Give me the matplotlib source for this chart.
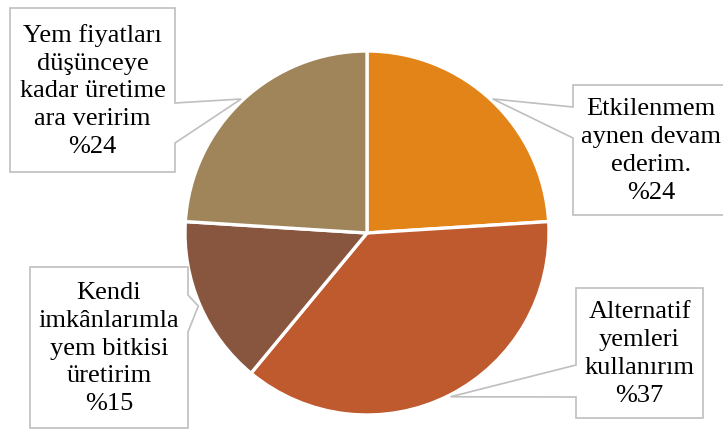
import numpy as np
import matplotlib
matplotlib.use("Agg")
import matplotlib.pyplot as plt
from matplotlib.patches import Polygon

labels = ["Etkilenmem\naynen devam\nederim.", "Alternatif\nyemleri\nkullanırım",
          "Kendi\nimkânlarımla\nyem bitkisi\nüretirim", "Yem fiyatları\ndüşünceye\nkadar üretime\nara veririm"]
values = [24, 37, 15, 24]
pct_labels = ["%24", "%37", "%15", "%24"]
colors = ["#E38418", "#BE5A2E", "#88563F", "#A0855A"]

W, H = 723, 430
fig = plt.figure(figsize=(W / 100, H / 100), dpi=100)
ax = fig.add_axes([0, 0, 1, 1])

cx, cy, R = 367, H - 233, 182
ax.pie(values, colors=colors, startangle=90, counterclock=False, center=(cx, cy),
       radius=R, frame=True, wedgeprops=dict(edgecolor="white", linewidth=2.4))
ax.set_xlim(0, W)
ax.set_ylim(0, H)
ax.set_aspect("equal")
ax.axis("off")

# callout boxes (pixel layout, top-left origin): x0, x1, y0, y1, side, pointer base a, b
boxes = [
    (573, 729, 85, 215, "left", 107, 138),
    (576, 703, 288, 418, "left", 365, 397),
    (30, 188, 267, 428, "right", 295, 332),
    (10, 175, 8, 172, "right", 103, 143),
]

total = sum(values)
cum = 0
for i, v in enumerate(values):
    ang = np.deg2rad(90 - 360 * (cum + v / 2) / total)
    cum += v
    tx, ty = cx + R * 1.01 * np.cos(ang), cy + R * 1.01 * np.sin(ang)
    x0, x1, y0, y1, side, pa, pb = boxes[i]
    Y = lambda y: H - y
    if side == "right":
        verts = [(x0, Y(y0)), (x1, Y(y0)), (x1, Y(pa)), (tx, ty), (x1, Y(pb)), (x1, Y(y1)), (x0, Y(y1))]
    else:
        verts = [(x0, Y(y0)), (x1, Y(y0)), (x1, Y(y1)), (x0, Y(y1)), (x0, Y(pb)), (tx, ty), (x0, Y(pa))]
    ax.add_patch(Polygon(verts, closed=True, facecolor="white", edgecolor="#BFBFBF",
                         linewidth=1.2, zorder=5, clip_on=False))
    ax.text((x0 + x1) / 2, H - (y0 + y1) / 2 - 1, labels[i] + "\n" + pct_labels[i],
            ha="center", va="center", multialignment="center", fontsize=19,
            family="Liberation Serif", color="black", linespacing=1.34, zorder=6)

fig.savefig("out.png", dpi=100)
